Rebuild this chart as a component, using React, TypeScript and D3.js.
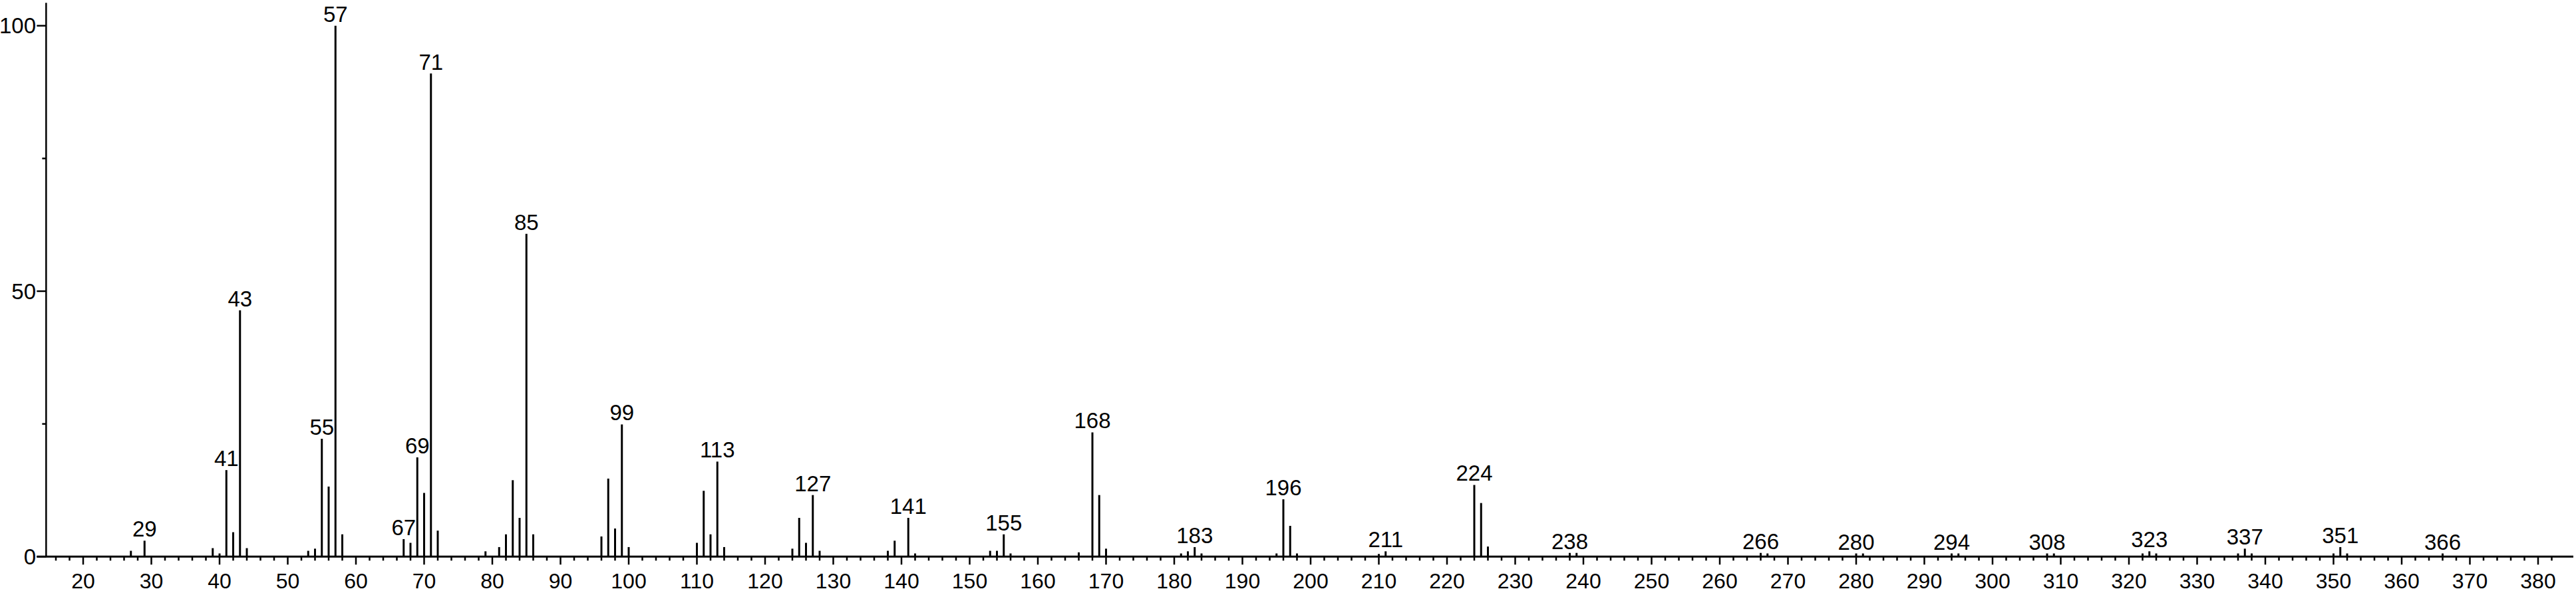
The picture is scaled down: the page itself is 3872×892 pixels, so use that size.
import React from "react";
import * as d3 from "d3";

const mzValues = [27, 29, 39, 40, 41, 42, 43, 44, 53, 54, 55, 56, 57, 58, 67, 68, 69, 70, 71, 72, 79, 81, 82, 83, 84, 85, 86, 96, 97, 98, 99, 100, 110, 111, 112, 113, 114, 124, 125, 126, 127, 128, 138, 139, 141, 142, 153, 154, 155, 156, 166, 168, 169, 170, 181, 182, 183, 184, 195, 196, 197, 198, 210, 211, 224, 225, 226, 238, 239, 266, 267, 280, 281, 294, 295, 308, 309, 322, 323, 324, 336, 337, 338, 350, 351, 352, 366];
const intensities = [1.1, 3.0, 1.6, 0.6, 16.3, 4.6, 46.4, 1.6, 1.1, 1.5, 22.2, 13.2, 100, 4.2, 3.3, 2.6, 18.7, 12.0, 91.0, 4.9, 1.0, 1.8, 4.2, 14.4, 7.3, 60.8, 4.2, 3.8, 14.7, 5.3, 24.9, 1.8, 2.6, 12.4, 4.2, 17.9, 1.8, 1.5, 7.3, 2.6, 11.6, 1.1, 1.1, 3.0, 7.3, 0.6, 1.1, 1.1, 4.2, 0.6, 0.8, 23.4, 11.6, 1.5, 0.6, 1.0, 1.8, 0.6, 0.6, 10.8, 5.8, 0.6, 0.5, 1.0, 13.5, 10.1, 1.9, 0.7, 0.7, 0.7, 0.6, 0.6, 0.6, 0.6, 0.6, 0.6, 0.6, 0.6, 1.0, 0.6, 0.6, 1.5, 0.6, 0.6, 1.8, 0.6, 0.6];
const labeledPeaks = [29, 41, 43, 55, 57, 67, 69, 71, 85, 99, 113, 127, 141, 155, 168, 183, 196, 211, 224, 238, 266, 280, 294, 308, 323, 337, 351, 366];
const xMajorTicks = d3.range(20, 381, 10);
const xMinorTicks = d3.range(16, 383, 2).filter((v) => v % 10 !== 0);
const yMajorTicks = [0, 50, 100];
const yMinorTicks = [25, 75];

const W = 3872;
const H = 892;
const FONT = "'Liberation Sans', Arial, Helvetica, sans-serif";

export default function App() {
  const x = d3.scaleLinear().domain([20, 380]).range([125, 3815]);
  const y = d3.scaleLinear().domain([0, 100]).range([837.3, 38.7]);
  const x0 = x(14.57);
  const yTop = y(104.3);
  const peaks = mzValues.map((m, i) => ({ m, v: intensities[i] }));
  const peakMap = new Map(peaks.map((p) => [p.m, p.v]));

  return (
    <svg
      width={W}
      height={H}
      viewBox={`0 0 ${W} ${H}`}
      style={{ position: "absolute", left: 0, top: 0, display: "block", background: "#fff" }}
    >
      <rect x={0} y={0} width={W} height={H} fill="#fff" />
      {/* bars */}
      {peaks.map((p) => (
        <line
          key={p.m}
          x1={x(p.m)}
          x2={x(p.m)}
          y1={y(0)}
          y2={y(p.v)}
          stroke="#000"
          strokeWidth={3}
        />
      ))}
      {/* x axis */}
      <line x1={x0 - 14} x2={W - 4} y1={y(0)} y2={y(0)} stroke="#000" strokeWidth={3} />
      {xMajorTicks.map((t) => (
        <g key={"M" + t}>
          <line x1={x(t)} x2={x(t)} y1={y(0)} y2={y(0) + 12} stroke="#000" strokeWidth={2.5} />
          <text
            x={x(t)}
            y={885}
            textAnchor="middle"
            fontFamily={FONT}
            fontSize={32}
            fill="#000"
          >
            {t}
          </text>
        </g>
      ))}
      {xMinorTicks.map((t) => (
        <line key={"m" + t} x1={x(t)} x2={x(t)} y1={y(0)} y2={y(0) + 6} stroke="#000" strokeWidth={2.5} />
      ))}
      {/* y axis */}
      <line x1={x0} x2={x0} y1={yTop} y2={y(0)} stroke="#000" strokeWidth={2.5} />
      {yMajorTicks.map((t) => (
        <g key={"Y" + t}>
          <line x1={x0 - 14} x2={x0} y1={y(t)} y2={y(t)} stroke="#000" strokeWidth={2.5} />
          <text
            x={54}
            y={y(t)}
            dy="0.35em"
            textAnchor="end"
            fontFamily={FONT}
            fontSize={33}
            fill="#000"
          >
            {t}
          </text>
        </g>
      ))}
      {yMinorTicks.map((t) => (
        <line key={"y" + t} x1={x0 - 6} x2={x0} y1={y(t)} y2={y(t)} stroke="#000" strokeWidth={2.5} />
      ))}
      {/* peak labels */}
      {labeledPeaks.map((m) => (
        <text
          key={"L" + m}
          x={x(m)}
          y={y(peakMap.get(m) ?? 0) - 6}
          textAnchor="middle"
          fontFamily={FONT}
          fontSize={33}
          fill="#000"
        >
          {m}
        </text>
      ))}
    </svg>
  );
}
